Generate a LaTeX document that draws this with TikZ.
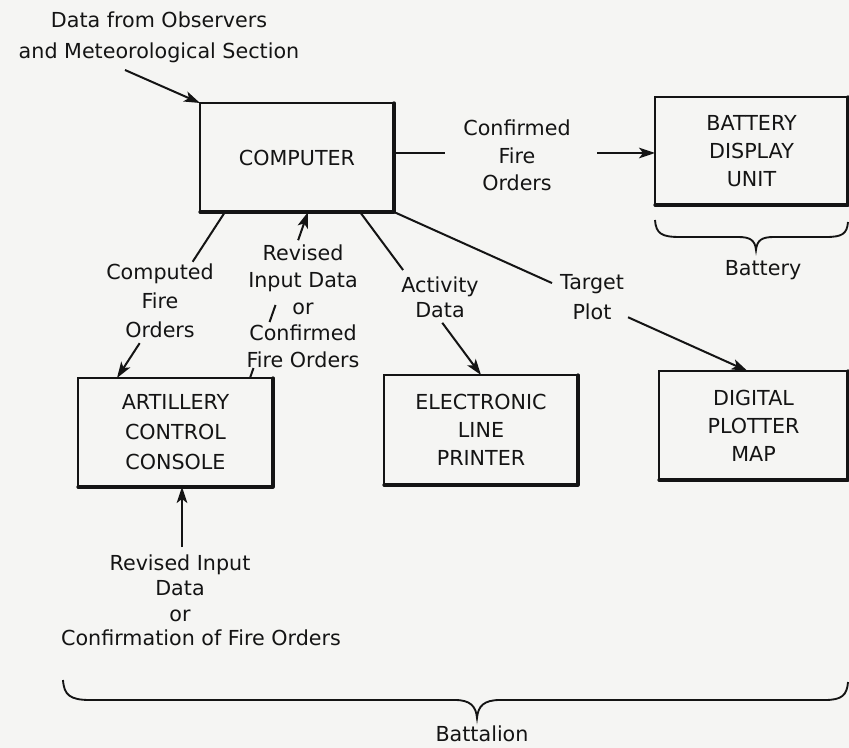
\documentclass[tikz,border=0pt]{standalone}
\usepackage{fontspec}
\setmainfont{DejaVu Sans}
\usetikzlibrary{arrows.meta,calc}
\definecolor{bg}{RGB}{245,245,243}
\definecolor{ink}{RGB}{20,20,20}
\begin{document}
\begin{tikzpicture}[x=0.75pt,y=-0.75pt,
  every node/.style={text=ink},
  box/.style={draw=ink, line width=1.1pt, inner sep=0pt, outer sep=0pt, align=center,
              font=\fontsize{15.5}{21}\selectfont},
  lbl/.style={align=center, inner sep=0pt},
  conn/.style={draw=ink, line width=1.5pt},
  arr/.style={conn, -{Stealth[length=12pt,width=8pt,inset=3pt]}},
  heavy/.style={draw=ink, line width=2.4pt, line cap=round, line join=round}
]
\useasboundingbox[fill=bg] (0,0) rectangle (849,748);

% boxes
\node[box, minimum width=145.5pt, minimum height=81.75pt] (comp) at (297,157.5) {COMPUTER};
\node[box, minimum width=144.75pt, minimum height=81pt] (batt) at (751.5,151) {BATTERY\\DISPLAY\\UNIT};
\node[box, minimum width=146.25pt, minimum height=81.75pt, font=\fontsize{15.5}{22.5}\selectfont] (acc) at (175.5,432.5) {ARTILLERY\\CONTROL\\CONSOLE};
\node[box, minimum width=145.5pt, minimum height=82.5pt] (elp) at (481,430) {ELECTRONIC\\LINE\\PRINTER};
\node[box, minimum width=141.75pt, minimum height=81.75pt] (dpm) at (753.5,425.5) {DIGITAL\\PLOTTER\\MAP};

\foreach \b in {comp,batt,acc,elp,dpm}{
  \draw[heavy] (\b.south west) -- (\b.south east) -- (\b.north east);
}

% labels
\node[lbl, font=\fontsize{15.5}{23}\selectfont] (lobs) at (159,37.5) {Data from Observers\\and Meteorological Section};
\node[lbl, font=\fontsize{15.5}{20.6}\selectfont] (lcfo) at (517,155.5) {Confirmed\\Fire\\Orders};
\node[lbl, font=\fontsize{15.5}{21.75}\selectfont] (lcomp) at (160,301) {Computed\\Fire\\Orders};
\node[lbl, font=\fontsize{15.5}{20}\selectfont] (lrev) at (303,306.5) {Revised\\Input Data\\or\\Confirmed\\Fire Orders};
\node[lbl, font=\fontsize{15.5}{19}\selectfont] (lact) at (440,297.5) {Activity\\Data};
\node[lbl, font=\fontsize{15.5}{22.5}\selectfont] (ltp) at (592,297) {Target\\Plot};
\node[lbl, font=\fontsize{15.5}{19}\selectfont] (lrin) at (180,588) {Revised Input\\Data\\or};
\node[lbl, font=\fontsize{15.5}{19}\selectfont] (lconf) at (201,638) {Confirmation of Fire Orders};
\node[lbl, font=\fontsize{15.5}{19}\selectfont] (lbat) at (763,270) {Battery};
\node[lbl, font=\fontsize{15.5}{19}\selectfont] (lbtn) at (482,734) {Battalion};

% data from observers
\coordinate (obs) at (125,70);
\draw[arr] (obs) -- (comp.north west);

% confirmed fire orders -> battery
\coordinate (c5) at ($(comp.north east)+(0,50)$);
\coordinate (b5) at (batt.west |- c5);
\path (c5) -- (b5) coordinate[pos=0.195] (f1) coordinate[pos=0.778] (f2);
\draw[conn] (c5) -- (f1);
\draw[arr] (f2) -- (b5);

% computed fire orders -> artillery
\coordinate (c1) at ($(comp.south west)+(25,0)$);
\coordinate (a1) at ($(acc.north west)+(39,0)$);
\path (c1) -- (a1) coordinate[pos=0.30] (c1b) coordinate[pos=0.79] (a1b);
\draw[conn] (c1) -- (c1b);
\draw[arr] (a1b) -- (a1);

% revised input data -> computer
\coordinate (a2) at ($(acc.north east)+(-23,0)$);
\coordinate (c2) at ($(comp.south west)+(108,0)$);
\path (a2) -- (c2) coordinate[pos=0.06] (r1) coordinate[pos=0.337] (r2)
                   coordinate[pos=0.44] (r3) coordinate[pos=0.83] (r4);
\draw[conn] (a2) -- (r1);
\draw[conn] (r2) -- (r3);
\draw[arr] (r4) -- (c2);

% activity data -> printer
\coordinate (c3) at ($(comp.south west)+(160,0)$);
\path (c3) -- (elp.north) coordinate[pos=0.356] (t1) coordinate[pos=0.68] (t2);
\draw[conn] (c3) -- (t1);
\draw[arr] (t2) -- (elp.north);

% target plot -> plotter
\coordinate (d4) at ($(dpm.north)+(-6,0)$);
\path (comp.south east) -- (d4) coordinate[pos=0.447] (p1) coordinate[pos=0.662] (p2);
\draw[conn] (comp.south east) -- (p1);
\draw[arr] (p2) -- (d4);

% revised input -> artillery
\coordinate (rin) at (182,547);
\draw[arr] (rin) -- (rin |- acc.south);

% braces
\draw[conn, line width=1.4pt] (655,220) .. controls (656,234) and (662,237) .. (680,237)
  -- (738,237) .. controls (750,237) and (755,240) .. (756,250)
  .. controls (757,240) and (762,237) .. (774,237)
  -- (826,237) .. controls (842,237) and (847,234) .. (848,222);
\draw[conn, line width=1.4pt] (63,680) .. controls (64,695) and (70,700) .. (90,700)
  -- (455,700) .. controls (470,700) and (476,706) .. (477,718)
  .. controls (478,706) and (484,700) .. (500,700)
  -- (825,700) .. controls (842,700) and (847,695) .. (848,682);
\end{tikzpicture}
\end{document}
